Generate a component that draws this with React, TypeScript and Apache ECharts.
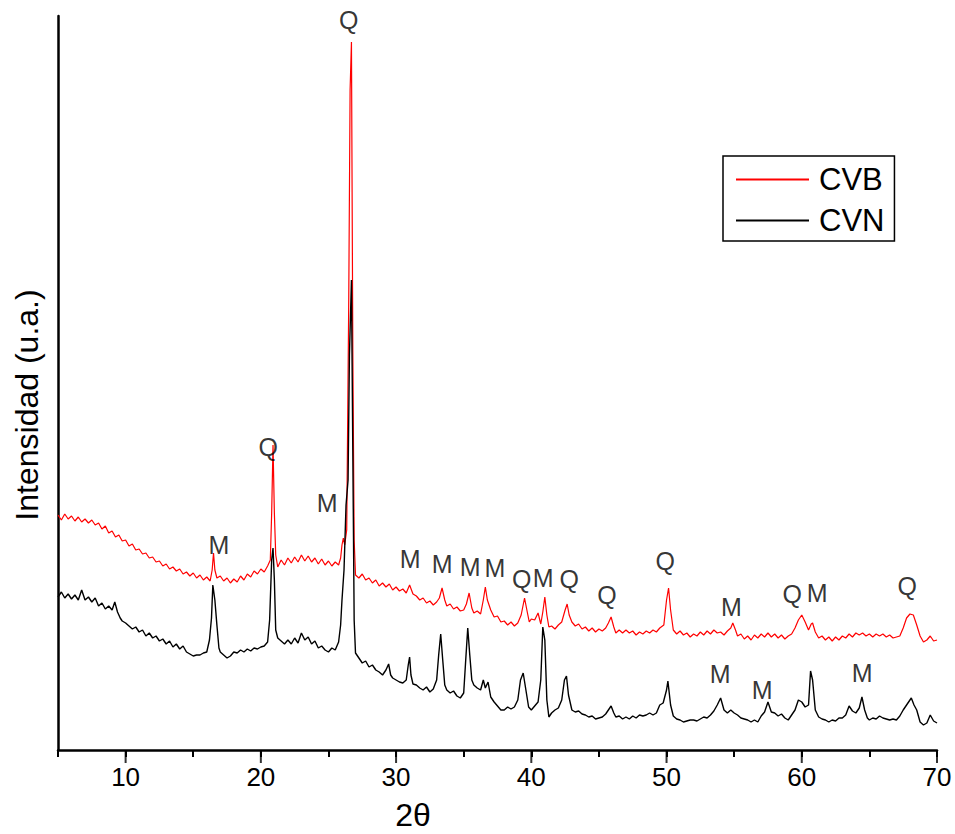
import React, { useEffect, useRef } from "react";
import * as echarts from "echarts";

// CVB (red) diffractogram: [2θ, intensity (a.u.)]
const cvbData: [number, number][] = [
  [5.0, 235], [5.25, 230], [5.5, 236], [5.75, 231], [6.0, 234], [6.25, 229], [6.5, 233], [6.75, 228],
  [7.0, 231], [7.25, 227], [7.5, 230], [7.75, 225], [8.0, 227], [8.25, 221], [8.5, 224], [8.75, 217],
  [9.0, 219], [9.25, 213], [9.5, 215], [9.75, 209], [10.0, 210], [10.25, 204], [10.5, 206], [10.75, 200],
  [11.0, 201], [11.25, 196], [11.5, 197], [11.75, 192], [12.0, 193], [12.25, 188], [12.5, 189], [12.75, 184],
  [13.0, 186], [13.25, 181], [13.5, 183], [13.75, 179], [14.0, 181], [14.25, 176], [14.5, 178], [14.75, 174],
  [15.0, 177], [15.25, 172], [15.5, 175], [15.75, 170], [16.0, 173], [16.25, 169], [16.4, 180], [16.5, 197],
  [16.6, 180], [16.75, 172], [17.0, 174], [17.25, 169], [17.5, 172], [17.75, 167], [18.0, 171], [18.25, 168],
  [18.5, 174], [18.75, 170], [19.0, 176], [19.25, 173], [19.5, 179], [19.75, 176], [20.0, 181], [20.25, 178],
  [20.5, 184], [20.7, 190], [20.8, 237], [20.9, 305], [21.0, 237], [21.1, 195], [21.25, 183], [21.5, 190],
  [21.75, 185], [22.0, 192], [22.25, 187], [22.5, 193], [22.75, 188], [23.0, 195], [23.25, 189], [23.5, 194],
  [23.75, 188], [24.0, 192], [24.25, 186], [24.5, 191], [24.75, 185], [25.0, 189], [25.25, 184], [25.5, 188],
  [25.75, 185], [25.9, 192], [26.0, 205], [26.1, 212], [26.2, 205], [26.35, 220], [26.5, 450], [26.6, 660],
  [26.7, 708], [26.8, 400], [26.9, 210], [27.0, 175], [27.25, 172], [27.5, 176], [27.75, 170], [28.0, 172],
  [28.25, 167], [28.5, 170], [28.75, 164], [29.0, 167], [29.25, 163], [29.5, 166], [29.75, 160], [30.0, 163],
  [30.25, 159], [30.5, 161], [30.75, 157], [31.0, 165], [31.25, 156], [31.5, 154], [31.75, 150], [32.0, 152],
  [32.25, 147], [32.5, 149], [32.75, 145], [33.0, 148], [33.2, 152], [33.4, 162], [33.6, 150], [33.75, 144],
  [34.0, 146], [34.25, 141], [34.5, 143], [34.75, 139], [35.0, 140], [35.2, 146], [35.4, 157], [35.6, 142],
  [35.75, 137], [36.0, 139], [36.25, 136], [36.45, 150], [36.6, 163], [36.75, 150], [37.0, 140], [37.25, 133],
  [37.5, 134], [37.75, 128], [38.0, 129], [38.25, 125], [38.5, 128], [38.75, 124], [39.0, 127], [39.25, 135],
  [39.5, 152], [39.7, 138], [39.85, 128], [40.0, 131], [40.25, 130], [40.5, 137], [40.7, 126], [40.85, 138],
  [41.0, 153], [41.15, 135], [41.3, 123], [41.5, 124], [41.75, 121], [42.0, 125], [42.25, 128], [42.5, 140],
  [42.65, 146], [42.8, 135], [43.0, 128], [43.25, 124], [43.5, 126], [43.75, 121], [44.0, 123], [44.25, 119],
  [44.5, 122], [44.75, 118], [45.0, 121], [45.25, 119], [45.5, 122], [45.7, 127], [45.9, 133], [46.1, 123],
  [46.25, 117], [46.5, 120], [46.75, 117], [47.0, 120], [47.25, 117], [47.5, 119], [47.75, 115], [48.0, 118],
  [48.25, 116], [48.5, 119], [48.75, 117], [49.0, 120], [49.25, 118], [49.5, 122], [49.8, 125], [50.0, 150],
  [50.15, 162], [50.3, 140], [50.5, 120], [50.75, 116], [51.0, 119], [51.25, 115], [51.5, 117], [51.75, 113],
  [52.0, 116], [52.25, 114], [52.5, 118], [52.75, 115], [53.0, 119], [53.25, 116], [53.5, 120], [53.75, 117],
  [54.0, 118], [54.25, 115], [54.5, 119], [54.75, 122], [54.9, 127], [55.1, 120], [55.25, 114], [55.5, 116],
  [55.75, 111], [56.0, 114], [56.25, 110], [56.5, 115], [56.75, 112], [57.0, 116], [57.25, 113], [57.5, 117],
  [57.75, 113], [58.0, 116], [58.25, 112], [58.5, 115], [58.75, 111], [59.0, 114], [59.25, 116], [59.5, 122],
  [59.75, 130], [60.0, 135], [60.25, 128], [60.5, 120], [60.7, 126], [60.8, 127], [61.0, 118], [61.25, 112],
  [61.5, 114], [61.75, 110], [62.0, 113], [62.25, 109], [62.5, 113], [62.75, 110], [63.0, 114], [63.25, 112],
  [63.5, 116], [63.75, 113], [64.0, 117], [64.25, 115], [64.5, 117], [64.75, 114], [65.0, 116], [65.25, 113],
  [65.5, 116], [65.75, 114], [66.0, 116], [66.25, 113], [66.5, 115], [66.75, 112], [67.0, 113], [67.25, 114],
  [67.5, 122], [67.75, 132], [68.0, 136], [68.25, 135], [68.5, 125], [68.75, 114], [69.0, 108], [69.25, 110],
  [69.5, 114], [69.75, 109], [70.0, 110],
];

// CVN (black) diffractogram: [2θ, intensity (a.u.)]
const cvnData: [number, number][] = [
  [5.0, 153], [5.25, 158], [5.5, 152], [5.75, 156], [6.0, 151], [6.25, 155], [6.5, 150], [6.75, 160],
  [7.0, 150], [7.25, 153], [7.5, 148], [7.75, 152], [8.0, 144], [8.25, 147], [8.5, 141], [8.75, 144],
  [9.0, 140], [9.2, 148], [9.4, 138], [9.6, 132], [9.75, 129], [10.0, 127], [10.25, 124], [10.5, 121],
  [10.75, 123], [11.0, 118], [11.25, 120], [11.5, 114], [11.75, 117], [12.0, 112], [12.25, 114], [12.5, 109],
  [12.75, 111], [13.0, 106], [13.25, 109], [13.5, 103], [13.75, 106], [14.0, 101], [14.25, 104], [14.5, 98],
  [14.75, 96], [15.0, 94], [15.25, 95], [15.5, 95], [15.75, 97], [16.0, 98], [16.2, 110], [16.35, 132],
  [16.45, 165], [16.6, 150], [16.75, 125], [16.9, 102], [17.0, 98], [17.25, 95], [17.5, 92], [17.75, 94],
  [18.0, 98], [18.25, 97], [18.5, 100], [18.75, 98], [19.0, 101], [19.25, 99], [19.5, 102], [19.75, 101],
  [20.0, 103], [20.25, 104], [20.5, 108], [20.65, 130], [20.8, 190], [20.9, 202], [21.0, 170], [21.1, 120],
  [21.25, 112], [21.5, 109], [21.75, 106], [22.0, 110], [22.25, 106], [22.5, 112], [22.75, 107], [23.0, 117],
  [23.25, 110], [23.5, 113], [23.75, 106], [24.0, 109], [24.25, 102], [24.5, 104], [24.75, 100], [25.0, 98],
  [25.25, 102], [25.5, 100], [25.75, 108], [25.9, 125], [26.0, 150], [26.15, 180], [26.3, 245], [26.45, 270],
  [26.55, 395], [26.7, 470], [26.8, 300], [26.9, 130], [27.0, 97], [27.25, 92], [27.5, 87], [27.75, 89],
  [28.0, 83], [28.25, 85], [28.5, 80], [28.75, 78], [29.0, 75], [29.25, 80], [29.45, 86], [29.6, 75],
  [29.75, 72], [30.0, 70], [30.25, 68], [30.5, 67], [30.75, 70], [30.9, 85], [31.0, 93], [31.1, 75],
  [31.25, 66], [31.5, 65], [31.75, 62], [32.0, 60], [32.25, 63], [32.5, 58], [32.75, 61], [33.0, 70],
  [33.15, 95], [33.3, 116], [33.45, 90], [33.6, 65], [33.75, 60], [34.0, 57], [34.25, 59], [34.5, 54],
  [34.75, 52], [35.0, 57], [35.15, 90], [35.3, 122], [35.45, 95], [35.6, 70], [35.75, 65], [36.0, 62],
  [36.25, 60], [36.45, 70], [36.6, 62], [36.8, 68], [37.0, 53], [37.25, 48], [37.5, 44], [37.75, 40],
  [38.0, 40], [38.25, 43], [38.5, 41], [38.75, 43], [39.0, 50], [39.2, 70], [39.4, 77], [39.6, 60],
  [39.8, 43], [40.0, 40], [40.25, 44], [40.5, 48], [40.7, 70], [40.85, 123], [41.0, 110], [41.15, 50],
  [41.3, 33], [41.5, 37], [41.75, 40], [42.0, 42], [42.25, 50], [42.45, 70], [42.6, 74], [42.75, 55],
  [43.0, 40], [43.25, 38], [43.5, 39], [43.75, 36], [44.0, 35], [44.25, 33], [44.5, 34], [44.75, 31],
  [45.0, 32], [45.25, 33], [45.5, 36], [45.75, 41], [45.9, 44], [46.1, 37], [46.25, 33], [46.5, 34],
  [46.75, 31], [47.0, 33], [47.25, 31], [47.5, 34], [47.75, 32], [48.0, 35], [48.25, 34], [48.5, 35],
  [48.75, 37], [49.0, 35], [49.25, 37], [49.5, 45], [49.75, 47], [50.0, 60], [50.1, 69], [50.3, 45],
  [50.5, 34], [50.75, 31], [51.0, 30], [51.25, 28], [51.5, 29], [51.75, 30], [52.0, 30], [52.25, 29],
  [52.5, 31], [52.75, 33], [53.0, 32], [53.25, 35], [53.5, 39], [53.75, 45], [54.0, 52], [54.25, 40],
  [54.5, 37], [54.75, 40], [55.0, 37], [55.25, 35], [55.5, 32], [55.75, 31], [56.0, 30], [56.25, 28],
  [56.5, 30], [56.75, 28], [57.0, 34], [57.25, 38], [57.5, 48], [57.75, 38], [58.0, 37], [58.25, 34],
  [58.5, 36], [58.75, 32], [59.0, 30], [59.25, 35], [59.5, 40], [59.75, 50], [60.0, 48], [60.25, 43],
  [60.5, 45], [60.65, 79], [60.8, 70], [61.0, 40], [61.25, 33], [61.5, 31], [61.75, 30], [62.0, 28],
  [62.25, 30], [62.5, 29], [62.75, 32], [63.0, 32], [63.25, 35], [63.5, 44], [63.75, 39], [64.0, 37],
  [64.25, 42], [64.45, 53], [64.65, 40], [64.85, 32], [65.0, 30], [65.25, 32], [65.5, 31], [65.75, 34],
  [66.0, 32], [66.25, 31], [66.5, 30], [66.75, 31], [67.0, 30], [67.25, 34], [67.5, 40], [67.75, 45],
  [68.0, 50], [68.1, 52], [68.3, 45], [68.5, 40], [68.75, 28], [69.0, 25], [69.25, 27], [69.5, 35],
  [69.75, 29], [70.0, 27],
];

// Phase annotations (M = mica, Q = quartz): [2θ, intensity, text]
const peakLabels: [number, number, string][] = [
  [16.9, 205, "M"], [20.55, 303, "Q"], [26.5, 730, "Q"], [24.9, 247, "M"],
  [31.05, 191, "M"], [33.4, 186, "M"], [35.47, 183, "M"], [37.3, 182, "M"],
  [39.3, 171, "Q"], [40.87, 172, "M"], [42.8, 171, "Q"], [45.6, 155, "Q"],
  [49.9, 189, "Q"], [54.8, 143, "M"], [59.3, 156, "Q"], [61.14, 157, "M"],
  [67.8, 164, "Q"], [53.96, 76, "M"], [57.07, 60, "M"], [64.47, 77, "M"],
];

const xMajorTicks = [10, 20, 30, 40, 50, 60, 70];
const xMin = 5;
const xMax = 70;
const yMax = 734;

const FONT = "'Liberation Sans', Arial, sans-serif";

export default function App() {
  const ref = useRef<HTMLDivElement>(null);

  useEffect(() => {
    if (!ref.current) return;
    const chart = echarts.init(ref.current, undefined, { renderer: "svg" });
    chart.setOption({
      animation: false,
      backgroundColor: "#ffffff",
      grid: { left: 58, top: 16, right: 18, bottom: 84, containLabel: false },
      legend: {
        data: ["CVB", "CVN"],
        orient: "vertical",
        left: 723,
        top: 156,
        icon: "rect",
        itemWidth: 73,
        itemHeight: 2,
        itemGap: 10,
        padding: [8, 10, 5, 13],
        borderColor: "#000",
        borderWidth: 1.5,
        selectedMode: false,
        textStyle: { fontSize: 31, lineHeight: 31, fontFamily: FONT, color: "#000", padding: [0, 0, 0, 5] },
      },
      xAxis: {
        type: "value",
        min: xMin,
        max: xMax,
        interval: 5,
        axisLine: { show: true, onZero: false, lineStyle: { color: "#000", width: 2.5 } },
        axisTick: { show: true, inside: false, length: 7, lineStyle: { color: "#000", width: 2 } },
        axisLabel: {
          margin: 14,
          fontSize: 26,
          fontFamily: FONT,
          color: "#000",
          formatter: (v: number) => (xMajorTicks.includes(v) ? String(v) : ""),
        },
        splitLine: { show: false },
      },
      yAxis: {
        type: "value",
        min: 0,
        max: yMax,
        axisLine: { show: true, lineStyle: { color: "#000", width: 2.5 } },
        axisTick: { show: false },
        axisLabel: { show: false },
        splitLine: { show: false },
      },
      series: [
        {
          name: "CVB",
          type: "line",
          data: cvbData,
          showSymbol: false,
          color: "#ff0000",
          lineStyle: { color: "#ff0000", width: 1.2 },
          z: 2,
        },
        {
          name: "CVN",
          type: "line",
          data: cvnData,
          showSymbol: false,
          color: "#000000",
          lineStyle: { color: "#000000", width: 1.4 },
          z: 3,
        },
        {
          name: "majorTicks",
          type: "scatter",
          data: xMajorTicks.map((v) => [v, 0]),
          symbol: "rect",
          symbolSize: [2, 13],
          symbolOffset: [0, 6.5],
          itemStyle: { color: "#000" },
          clip: false,
          silent: true,
          z: 5,
        },
        {
          name: "phases",
          type: "scatter",
          data: peakLabels.map(([x, y, t]) => ({ value: [x, y], name: t })),
          symbolSize: 0,
          clip: false,
          silent: true,
          label: {
            show: true,
            position: "inside",
            formatter: (p: any) => p.name,
            fontSize: 25,
            fontFamily: FONT,
            color: "#000",
          },
          z: 6,
        },
      ],
      graphic: [
        {
          type: "text",
          x: 27,
          y: 405,
          rotation: Math.PI / 2,
          style: {
            text: "Intensidad (u.a.)",
            font: `32px ${FONT}`,
            fill: "#000",
            align: "center",
            verticalAlign: "middle",
          },
        },
        {
          type: "text",
          x: 413,
          y: 815,
          style: {
            text: "2θ",
            font: `32px ${FONT}`,
            fill: "#000",
            align: "center",
            verticalAlign: "middle",
          },
        },
      ],
    });
    return () => chart.dispose();
  }, []);

  return (
    <div
      ref={ref}
      style={{ position: "absolute", left: 0, top: 0, width: 955, height: 834 }}
    />
  );
}
